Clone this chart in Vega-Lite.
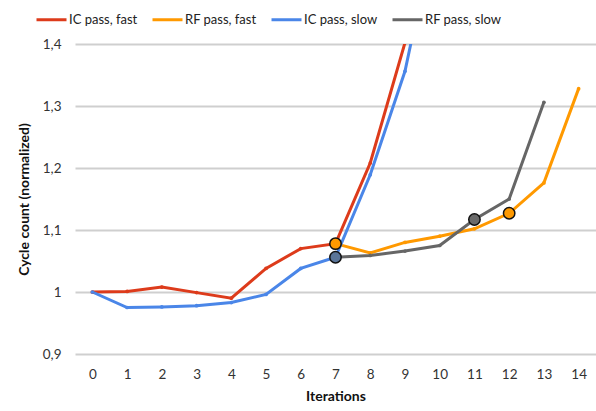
{
  "$schema": "https://vega.github.io/schema/vega-lite/v6.json",
  "width": 521,
  "height": 310,
  "autosize": {"type": "none"},
  "padding": {"left": 75, "top": 44, "right": 0, "bottom": 57},
  "background": "white",
  "config": {
    "font": "Lato",
    "view": {"stroke": null},
    "axis": {"labelFont": "Lato", "titleFont": "Lato", "labelColor": "#333333", "titleColor": "#111111"}
  },
  "datasets": {
    "lines": [
      {"iteration": 0, "value": 1.0, "series": "IC pass, fast"},
      {"iteration": 1, "value": 1.001, "series": "IC pass, fast"},
      {"iteration": 2, "value": 1.008, "series": "IC pass, fast"},
      {"iteration": 3, "value": 0.999, "series": "IC pass, fast"},
      {"iteration": 4, "value": 0.990, "series": "IC pass, fast"},
      {"iteration": 5, "value": 1.038, "series": "IC pass, fast"},
      {"iteration": 6, "value": 1.070, "series": "IC pass, fast"},
      {"iteration": 7, "value": 1.078, "series": "IC pass, fast"},
      {"iteration": 8, "value": 1.208, "series": "IC pass, fast"},
      {"iteration": 9, "value": 1.402, "series": "IC pass, fast"},
      {"iteration": 7, "value": 1.078, "series": "RF pass, fast"},
      {"iteration": 8, "value": 1.063, "series": "RF pass, fast"},
      {"iteration": 9, "value": 1.080, "series": "RF pass, fast"},
      {"iteration": 10, "value": 1.090, "series": "RF pass, fast"},
      {"iteration": 11, "value": 1.102, "series": "RF pass, fast"},
      {"iteration": 12, "value": 1.127, "series": "RF pass, fast"},
      {"iteration": 13, "value": 1.176, "series": "RF pass, fast"},
      {"iteration": 14, "value": 1.328, "series": "RF pass, fast"},
      {"iteration": 0, "value": 1.0, "series": "IC pass, slow"},
      {"iteration": 1, "value": 0.975, "series": "IC pass, slow"},
      {"iteration": 2, "value": 0.976, "series": "IC pass, slow"},
      {"iteration": 3, "value": 0.978, "series": "IC pass, slow"},
      {"iteration": 4, "value": 0.983, "series": "IC pass, slow"},
      {"iteration": 5, "value": 0.996, "series": "IC pass, slow"},
      {"iteration": 6, "value": 1.038, "series": "IC pass, slow"},
      {"iteration": 7, "value": 1.056, "series": "IC pass, slow"},
      {"iteration": 8, "value": 1.189, "series": "IC pass, slow"},
      {"iteration": 9, "value": 1.356, "series": "IC pass, slow"},
      {"iteration": 10, "value": 1.62, "series": "IC pass, slow"},
      {"iteration": 7, "value": 1.056, "series": "RF pass, slow"},
      {"iteration": 8, "value": 1.059, "series": "RF pass, slow"},
      {"iteration": 9, "value": 1.066, "series": "RF pass, slow"},
      {"iteration": 10, "value": 1.075, "series": "RF pass, slow"},
      {"iteration": 11, "value": 1.117, "series": "RF pass, slow"},
      {"iteration": 12, "value": 1.150, "series": "RF pass, slow"},
      {"iteration": 13, "value": 1.306, "series": "RF pass, slow"}
    ],
    "highlights": [
      {"iteration": 7, "value": 1.078, "kind": "orange"},
      {"iteration": 7, "value": 1.056, "kind": "blue"},
      {"iteration": 11, "value": 1.117, "kind": "gray"},
      {"iteration": 12, "value": 1.127, "kind": "orange"}
    ]
  },
  "encoding": {
    "x": {
      "field": "iteration", "type": "quantitative",
      "scale": {"domain": [-0.5, 14.5], "nice": false, "zero": false},
      "axis": {
        "values": [0,1,2,3,4,5,6,7,8,9,10,11,12,13,14],
        "grid": false, "ticks": false, "domain": false,
        "labelFontSize": 13.5, "labelPadding": 13, "labelFlush": false, "labelOverlap": false,
        "title": "Iterations", "titleFontSize": 14, "titleFontWeight": "bold", "titlePadding": 9
      }
    },
    "y": {
      "field": "value", "type": "quantitative",
      "scale": {"domain": [0.9, 1.4], "nice": false, "zero": false},
      "axis": {
        "tickCount": 10,
        "values": [0.9, 0.95, 1.0, 1.05, 1.1, 1.15, 1.2, 1.25, 1.3, 1.35, 1.4],
        "labelExpr": "replace(format(datum.value, '.2~f'), '.', ',')",
        "grid": true, "gridColor": "#CFCFCF", "gridWidth": 2, "gridOpacity": 1,
        "ticks": false, "domain": false, "labelOverlap": false, "labelFlush": false,
        "labelFontSize": 13.5, "labelPadding": 14,
        "title": "Cycle count (normalized)", "titleFontSize": 14, "titleFontWeight": "bold", "titlePadding": 11
      }
    }
  },
  "layer": [
    {
      "data": {"name": "lines"},
      "mark": {"type": "line", "strokeWidth": 3, "clip": true},
      "encoding": {
        "color": {
          "field": "series", "type": "nominal",
          "scale": {
            "domain": ["IC pass, fast", "RF pass, fast", "IC pass, slow", "RF pass, slow"],
            "range": ["#DD3B1B", "#FF9900", "#4A86E8", "#666666"]
          },
          "legend": {
            "orient": "none", "legendX": -40, "legendY": -41,
            "direction": "horizontal", "columns": 4, "title": null,
            "symbolType": "stroke", "symbolSize": 900, "symbolStrokeWidth": 3,
            "labelFontSize": 13, "labelColor": "#222222", "labelOffset": 1, "columnPadding": 8
          }
        },
        "order": {"field": "iteration", "type": "quantitative"}
      }
    },
    {
      "data": {"name": "lines"},
      "mark": {"type": "point", "filled": true, "size": 14, "opacity": 1, "clip": true},
      "encoding": {
        "color": {"field": "series", "type": "nominal", "legend": null}
      }
    },
    {
      "data": {"name": "highlights"},
      "mark": {"type": "point", "filled": true, "size": 130, "stroke": "#111111", "strokeWidth": 1.5, "opacity": 1},
      "encoding": {
        "fill": {
          "field": "kind", "type": "nominal",
          "scale": {"domain": ["orange", "blue", "gray"], "range": ["#FF9900", "#5A7599", "#6A6A6A"]},
          "legend": null
        }
      }
    }
  ]
}
